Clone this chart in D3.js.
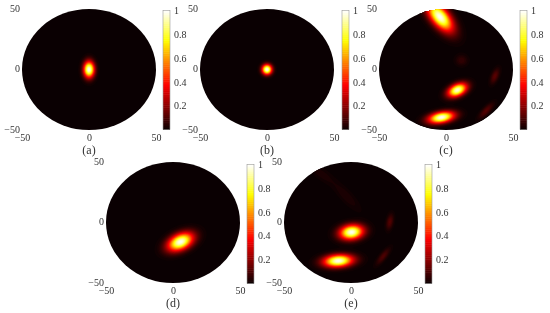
<!DOCTYPE html>
<html>
<head>
<meta charset="utf-8">
<script src="https://cdn.jsdelivr.net/npm/d3@7"></script>
<style>
html, body { margin: 0; padding: 0; background: #fff; }
svg { display: block; filter: blur(0.4px); }
text { font-family: "Liberation Serif", serif; fill: #333; }
</style>
</head>
<body>
<div id="chart"></div>
<script>
// Each spot: x, y, long sigma, short sigma, angle in degrees, peak
var spotsA = [[0, 0, 4.6, 2.7, 90, 1]];
var spotsB = [[0, 0, 2.8, 2.5, 90, 1]];
var spotsC = [
    [-4.5, 43.5, 9.5, 4.5, -55, 1],
    [8.5, -17, 5.2, 3.2, 30, 0.97],
    [-3.4, -39.6, 6.6, 3, 12, 1],
    [11.6, 7.6, 3.2, 3.2, 0, 0.07],
    [36.5, -5.5, 4.5, 1.9, 70, 0.13],
    [30, -34, 5.5, 1.9, 50, 0.12]
];
var spotsD = [[5.6, -16, 7, 4.3, 30, 1]];
var spotsE = [
    [0.4, -8, 6, 4, 10, 1],
    [-9.5, -31.7, 7.4, 3.4, 5, 1],
    [29, 0.5, 4.5, 1.8, 80, 0.12],
    [24, -28, 5.5, 1.8, 55, 0.11],
    [-3.4, 21.6, 10, 3, -50, 0.04],
    [-22, 40, 8, 3, -40, 0.035]
];

var panelLabels = ["(a)", "(b)", "(c)", "(d)", "(e)"];
var panelSpots = [spotsA, spotsB, spotsC, spotsD, spotsE];
var axisTicks = [-50, 0, 50];
var colorTicks = [0.2, 0.4, 0.6, 0.8, 1];

// Matlab "hot" style colormap
var colorStops = [0, 0.375, 0.75, 1];
var colorValues = ["#0a0002", "#ff0000", "#ffff00", "#ffffff"];

// left edge and top of each disc and colorbar in the page
var panelLeft = [22, 200, 379, 106, 284];
var panelTop = [9, 9, 9, 162, 162];
var barLeft = [163, 342, 520, 247, 425];
var barTop = [10.5, 10.5, 10.5, 164.3, 164.3];

var width = 550;
var height = 313;
var discWidth = 134;
var discHeight = 121;
var barWidth = 7;
var barHeight = 119;

var color = d3.scaleLinear().domain(colorStops).range(colorValues).clamp(true);

var svg = d3.select("#chart")
    .append("svg")
    .attr("width", width)
    .attr("height", height);

var defs = svg.append("defs");

function fieldAt(spots, x, y) {
    var total = 0;
    spots.forEach(function (s) {
        var a = s[4] * Math.PI / 180;
        var u = (x - s[0]) * Math.cos(a) + (y - s[1]) * Math.sin(a);
        var v = -(x - s[0]) * Math.sin(a) + (y - s[1]) * Math.cos(a);
        total += s[5] * Math.exp(-(u * u) / (2 * s[2] * s[2]) - (v * v) / (2 * s[3] * s[3]));
    });
    return Math.min(total, 1);
}

panelSpots.forEach(function (spots, index) {
    var group = svg.append("g")
        .attr("transform", "translate(" + panelLeft[index] + "," + panelTop[index] + ")");

    var xScale = d3.scaleLinear().domain([-50, 50]).range([0, discWidth]);
    var yScale = d3.scaleLinear().domain([-50, 50]).range([discHeight, 0]);

    defs.append("clipPath")
        .attr("id", "disc-" + index)
        .append("ellipse")
        .attr("cx", xScale(0))
        .attr("cy", yScale(0))
        .attr("rx", xScale(50) - xScale(0))
        .attr("ry", yScale(-50) - yScale(0));

    var plot = group.append("g").attr("clip-path", "url(#disc-" + index + ")");

    plot.append("rect")
        .attr("x", xScale(-50))
        .attr("y", yScale(50))
        .attr("width", discWidth)
        .attr("height", discHeight)
        .attr("fill", color(0));

    // Sample the field at half a unit, then let d3.contours trace the levels
    var size = 221;
    var values = new Array(size * size);
    for (var j = 0; j < size; j++) {
        for (var i = 0; i < size; i++) {
            values[j * size + i] = fieldAt(spots, i / 2 - 55, 55 - j / 2);
        }
    }

    var contours = d3.contours()
        .size([size, size])
        .thresholds(d3.range(0.01, 1, 0.015))(values);

    var path = d3.geoPath(d3.geoTransform({
        point: function (x, y) {
            this.stream.point(xScale((x - 0.5) / 2 - 55), yScale(55 - (y - 0.5) / 2));
        }
    }));

    plot.selectAll(".level")
        .data(contours)
        .enter()
        .append("path")
        .attr("class", "level")
        .attr("d", path)
        .attr("fill", function (d) { return color(d.value); });

    // Axes, no lines or tick marks in the reference
    var left = group.append("g")
        .attr("transform", "translate(-2,-1)")
        .call(d3.axisLeft(yScale).tickValues(axisTicks).tickSize(0).tickPadding(0).tickFormat(d3.format("d")));
    var bottom = group.append("g")
        .attr("transform", "translate(0," + (discHeight + 4) + ")")
        .call(d3.axisBottom(xScale).tickValues(axisTicks).tickSize(0).tickPadding(0).tickFormat(d3.format("d")));
    left.select(".domain").remove();
    bottom.select(".domain").remove();
    left.selectAll("text").attr("font-size", 10).attr("font-family", null);
    bottom.selectAll("text").attr("font-size", 10).attr("font-family", null);

    group.append("text")
        .attr("x", xScale(0))
        .attr("y", discHeight + 24)
        .attr("text-anchor", "middle")
        .attr("font-size", 12)
        .text(panelLabels[index]);

    // Colorbar
    var barScale = d3.scaleLinear().domain([0, 1]).range([barHeight, 0]);
    var bar = svg.append("g")
        .attr("transform", "translate(" + barLeft[index] + "," + barTop[index] + ")");

    bar.selectAll(".step")
        .data(d3.range(0, 1, 1 / 64))
        .enter()
        .append("rect")
        .attr("class", "step")
        .attr("x", 0)
        .attr("y", function (d) { return barScale(d + 1 / 64); })
        .attr("width", barWidth)
        .attr("height", function (d) { return barScale(d) - barScale(d + 1 / 64) + 0.5; })
        .attr("fill", function (d) { return color(d + 1 / 128); });

    bar.append("rect")
        .attr("x", 0)
        .attr("y", barScale(1))
        .attr("width", barWidth)
        .attr("height", barScale(0) - barScale(1))
        .attr("fill", "none")
        .attr("stroke", "#999")
        .attr("stroke-width", 0.6);

    var barAxis = bar.append("g")
        .attr("transform", "translate(" + (barWidth + 4) + ",0)")
        .call(d3.axisRight(barScale).tickValues(colorTicks).tickSize(0).tickPadding(0).tickFormat(d3.format("")));
    barAxis.select(".domain").remove();
    barAxis.selectAll("text").attr("font-size", 10).attr("font-family", null);
});
</script>
</body>
</html>
